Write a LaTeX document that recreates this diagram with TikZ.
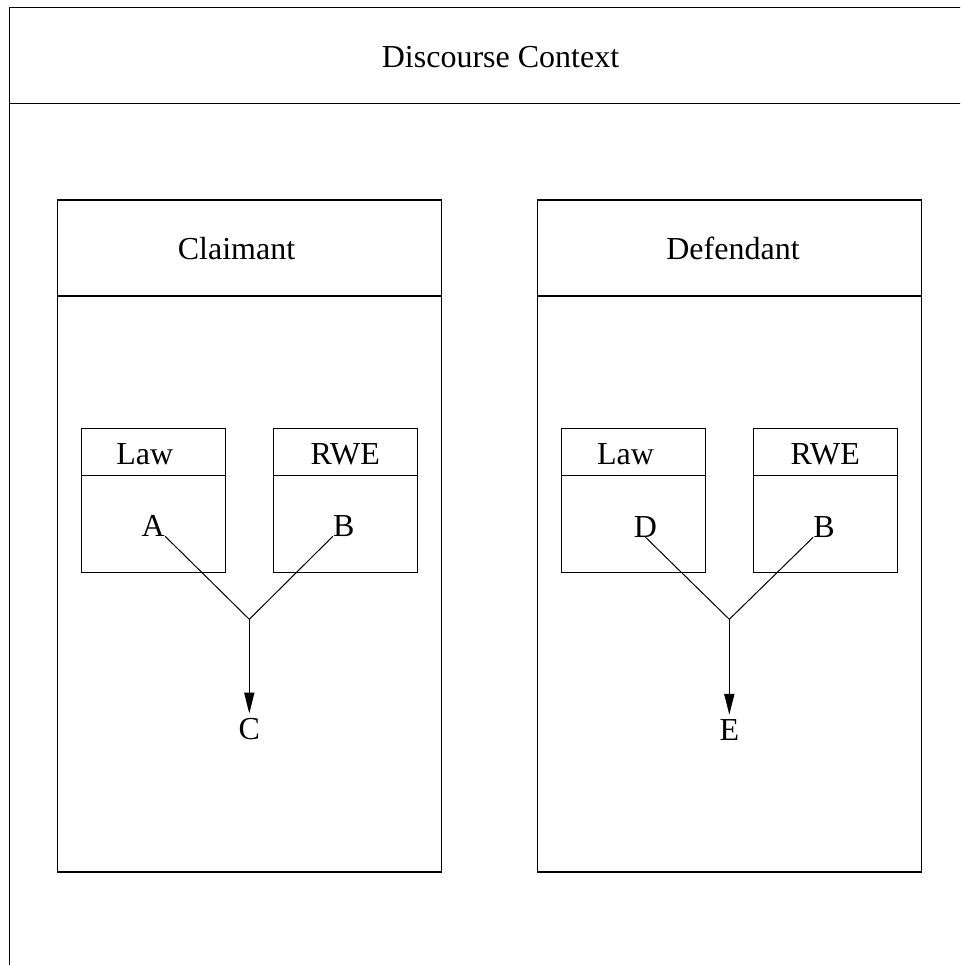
\documentclass[tikz,border=0pt]{standalone}
\usepackage{fontspec}
\setmainfont{Liberation Serif}
\usetikzlibrary{arrows.meta, positioning}

\begin{document}
\begin{tikzpicture}[
    x=1pt, y=-1pt,
    font=\fontsize{32}{38}\selectfont,
    frame/.style={draw, line width=1.4pt, anchor=north west, inner sep=0, outer sep=0},
    party/.style={frame, minimum width=384pt, minimum height=672pt},
    source/.style={frame, minimum width=144pt, minimum height=144pt},
    title/.style={anchor=base, inner sep=0},
    letter/.style={anchor=base, inner sep=0},
    link/.style={line width=1pt},
    arrow/.style={-{Triangle[length=21pt, width=10pt]}, line width=1.6pt, shorten >=4pt},
]
\clip (0,0) rectangle (960,965);

\node[frame, minimum width=1000pt, minimum height=1000pt] (context) at (9.5,7.5) {};
\draw[line width=1.4pt] ([yshift=-96pt]context.north west) -- ([yshift=-96pt]context.north east);
\node[title] (contexttitle) at (500.5,67.3) {Discourse Context};

\node[party] (claimant) at (57.5,200) {};
\node[party, right=96pt of claimant] (defendant) {};
\draw[line width=1.4pt] ([yshift=-96pt]claimant.north west) -- ([yshift=-96pt]claimant.north east);
\draw[line width=1.4pt] ([yshift=-96pt]defendant.north west) -- ([yshift=-96pt]defendant.north east);
\node[title] (claimanttitle) at (236.5,260) {Claimant};
\node[title] (defendanttitle) at (733,260) {Defendant};

\node[source] (claw) at (81.7,428.3) {};
\node[source, right=48pt of claw] (crwe) {};
\node[source] (dlaw) at (561.7,428.3) {};
\node[source, right=48pt of dlaw] (drwe) {};
\draw[line width=1.4pt] ([yshift=-47.4pt]claw.north west) -- ([yshift=-47.4pt]claw.north east);
\draw[line width=1.4pt] ([yshift=-47.4pt]crwe.north west) -- ([yshift=-47.4pt]crwe.north east);
\draw[line width=1.4pt] ([yshift=-47.4pt]dlaw.north west) -- ([yshift=-47.4pt]dlaw.north east);
\draw[line width=1.4pt] ([yshift=-47.4pt]drwe.north west) -- ([yshift=-47.4pt]drwe.north east);
\node[title] (clawtitle) at (144.7,464) {Law};
\node[title] (crwetitle) at (345.3,464) {RWE};
\node[title] (dlawtitle) at (625.5,464) {Law};
\node[title] (drwetitle) at (825.3,464) {RWE};

\node[letter] (cA) at (153.3,536) {A};
\node[letter] (cB) at (343.7,536) {B};
\node[letter] (cC) at (249.3,739) {C};
\node[letter] (dD) at (645.5,537) {D};
\node[letter] (dB) at (824,537) {B};
\node[letter] (dE) at (729.3,740) {E};

\coordinate (cjoin) at (249.3,619.3);
\coordinate (djoin) at (729.3,619.3);

\draw[link] (cA.south east) -- (cjoin);
\draw[link] (cB.south west) -- (cjoin);
\draw[arrow] (cjoin) -- (cC.north);
\draw[link] (dD.south) -- (djoin);
\draw[link] (dB.south west) -- (djoin);
\draw[arrow] (djoin) -- (dE.north);

\end{tikzpicture}
\end{document}
